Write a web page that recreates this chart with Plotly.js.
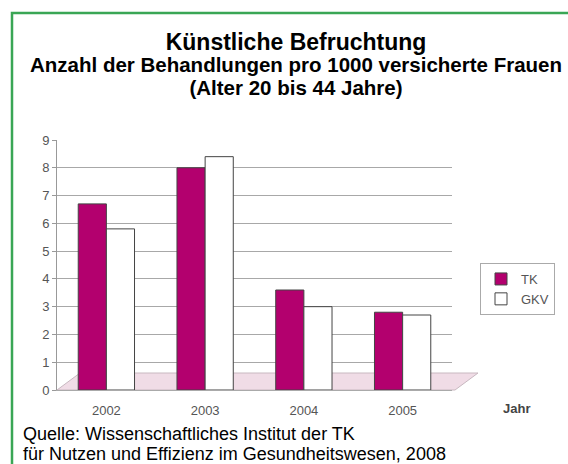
<!DOCTYPE html>
<html><head><meta charset="utf-8">
<script src="https://cdn.plot.ly/plotly-3.0.1.min.js"></script>
<style>html,body{margin:0;padding:0;background:#fff}#c{width:568px;height:464px}</style>
</head><body><div id="c"></div>
<script>
const years = ['2002','2003','2004','2005'];
const tkValues = [6.7, 8.0, 3.6, 2.8];
const gkvValues = [5.8, 8.4, 3.0, 2.7];
const seriesNames = ['TK','GKV'];
const yTicks = [0,1,2,3,4,5,6,7,8,9];

const L=57, R=452, T=140, B=390;
const px = x => (x-L)/(R-L);
const py = y => (B-y)/(B-T);

const traces = [
  {type:'bar', name:seriesNames[0], x:years, y:tkValues,
   marker:{color:'#B3006E', line:{color:'#444', width:1}}},
  {type:'bar', name:seriesNames[1], x:years, y:gkvValues,
   marker:{color:'#ffffff', line:{color:'#444', width:1}}}
];

const titleText =
  '<span style="font-size:23px"><b>Künstliche Befruchtung</b></span><br>' +
  '<span style="font-size:20.5px"><b>Anzahl der Behandlungen pro 1000 versicherte Frauen</b></span><br>' +
  '<span style="font-size:20.5px"><b>(Alter 20 bis 44 Jahre)</b></span>';
const sourceText =
  '<span style="font-size:18px">Quelle: Wissenschaftliches Institut der TK</span><br>' +
  '<span style="font-size:18px">für Nutzen und Effizienz im Gesundheitswesen, 2008</span>';

const layout = {
  width:568, height:464,
  margin:{l:L, r:568-R, t:T, b:464-B, pad:0, autoexpand:false},
  paper_bgcolor:'#fff', plot_bgcolor:'rgba(0,0,0,0)',
  font:{family:'Liberation Sans, Arial, sans-serif', color:'#555', size:13},
  barmode:'group', bargap:0.43, bargroupgap:0,
  showlegend:true,
  legend:{x:px(480), y:py(263), xanchor:'left', yanchor:'top',
    bordercolor:'#aaa', borderwidth:1, bgcolor:'#fff',
    font:{size:13, color:'#555'}, itemwidth:30},
  xaxis:{type:'category', showline:true, linecolor:'#aaa',
    ticks:'outside', ticklen:8, tickcolor:'rgba(0,0,0,0)',
    tickfont:{size:13, color:'#555'}, showgrid:false},
  yaxis:{range:[0,9], tickvals:yTicks, showline:true, linecolor:'#999',
    ticks:'outside', ticklen:4, tickcolor:'#999',
    gridcolor:'#a8a8a8', gridwidth:1, zeroline:false,
    tickfont:{size:13, color:'#555'}},
  shapes:[
    {type:'path', xref:'paper', yref:'paper', layer:'below',
     path:`M ${px(57)} ${py(390)} L ${px(455)} ${py(390)} L ${px(478)} ${py(373)} L ${px(80)} ${py(373)} Z`,
     fillcolor:'#f0dce6', line:{color:'#c8b8c0', width:1}},
    {type:'rect', xref:'paper', yref:'paper',
     x0:px(12), x1:px(620), y0:py(13), y1:py(520),
     line:{color:'#3aa655', width:2.5}, fillcolor:'rgba(0,0,0,0)'}
  ],
  annotations:[
    {xref:'paper', yref:'paper', x:px(296), y:py(64), yanchor:'middle', showarrow:false,
     text:titleText, font:{size:17.3, color:'#000'}},
    {xref:'paper', yref:'paper', x:px(532), y:py(408), yanchor:'middle', showarrow:false,
     text:'<b>Jahr</b>', font:{size:13, color:'#444'}},
    {xref:'paper', yref:'paper', x:px(21), y:py(443.5), xanchor:'left', yanchor:'middle', align:'left', showarrow:false,
     text:sourceText, font:{size:15.4, color:'#000'}}
  ]
};
Plotly.newPlot('c', traces, layout, {displayModeBar:false, staticPlot:true});
</script></body></html>
